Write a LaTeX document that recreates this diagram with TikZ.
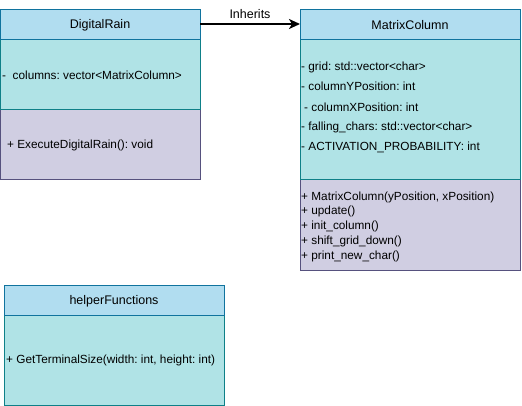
\documentclass[tikz,border=0pt]{standalone}
\usepackage{fontspec}
\setmainfont{Liberation Sans}
\usetikzlibrary{arrows.meta}
\definecolor{hdrfill}{HTML}{B1DDF0}
\definecolor{hdrline}{HTML}{10739E}
\definecolor{attfill}{HTML}{B0E3E6}
\definecolor{attline}{HTML}{0E8088}
\definecolor{metfill}{HTML}{D0CEE2}
\definecolor{metline}{HTML}{56517E}
\frenchspacing
\begin{document}
\begin{tikzpicture}[x=1pt,y=-1pt,
  hdr/.style={draw=hdrline,fill=hdrfill,line width=1pt},
  att/.style={draw=attline,fill=attfill,line width=1pt},
  met/.style={draw=metline,fill=metfill,line width=1pt},
  txt/.style={anchor=west,inner sep=0pt,font=\fontsize{11.8}{13}\selectfont},
  title/.style={inner sep=0pt,font=\fontsize{12.5}{14}\selectfont}]
\useasboundingbox (0,0) rectangle (522,406);
% DigitalRain
\draw[met] (0.5,110) rectangle (200,180);
\draw[att] (0.5,40) rectangle (200,110);
\draw[hdr] (0.5,10) rectangle (200,40);
\node[title] (drT) at (100,25) {DigitalRain};
\node[txt] (drA) at (2,75) {-\ \ columns: vector<MatrixColumn>};
\node[txt] (drM) at (7,145) {+ ExecuteDigitalRain(): void};
\coordinate (drR) at (200,24);
% MatrixColumn
\draw[met] (300,180) rectangle (520,270);
\draw[att] (300,40) rectangle (520,180);
\draw[hdr] (300,10) rectangle (520,40);
\node[title] (mcT) at (410,25) {MatrixColumn};
\node[txt] (mcA1) at (301,67) {- grid: std::vector<char>};
\node[txt] (mcA2) at (301,86) {- columnYPosition: int};
\node[txt] (mcA3) at (304,107) {- columnXPosition: int};
\node[txt] (mcA4) at (301,127) {- falling\_chars: std::vector<char>};
\node[txt] (mcA5) at (301,147) {- ACTIVATION\_PROBABILITY: int};
\node[txt] (mcM1) at (301,197) {+ MatrixColumn(yPosition, xPosition)};
\node[txt] (mcM2) at (301,211) {+ update()};
\node[txt] (mcM3) at (301,226) {+ init\_column()};
\node[txt] (mcM4) at (301,241) {+ shift\_grid\_down()};
\node[txt] (mcM5) at (301,256) {+ print\_new\_char()};
\coordinate (mcL) at (300,24);
% helperFunctions
\draw[att] (4,315) rectangle (224,405);
\draw[hdr] (4,285) rectangle (224,315);
\node[title] (hfT) at (114,301) {helperFunctions};
\node[txt] (hfM) at (6,360) {+ GetTerminalSize(width: int, height: int)};
% Inheritance
\draw[line width=2pt,-{Stealth[length=11pt,width=10pt,inset=3pt]}] (drR) -- (mcL)
  node[midway,above=4pt,inner sep=0pt,font=\fontsize{12.5}{14}\selectfont] (inh) {Inherits};
\end{tikzpicture}
\end{document}
